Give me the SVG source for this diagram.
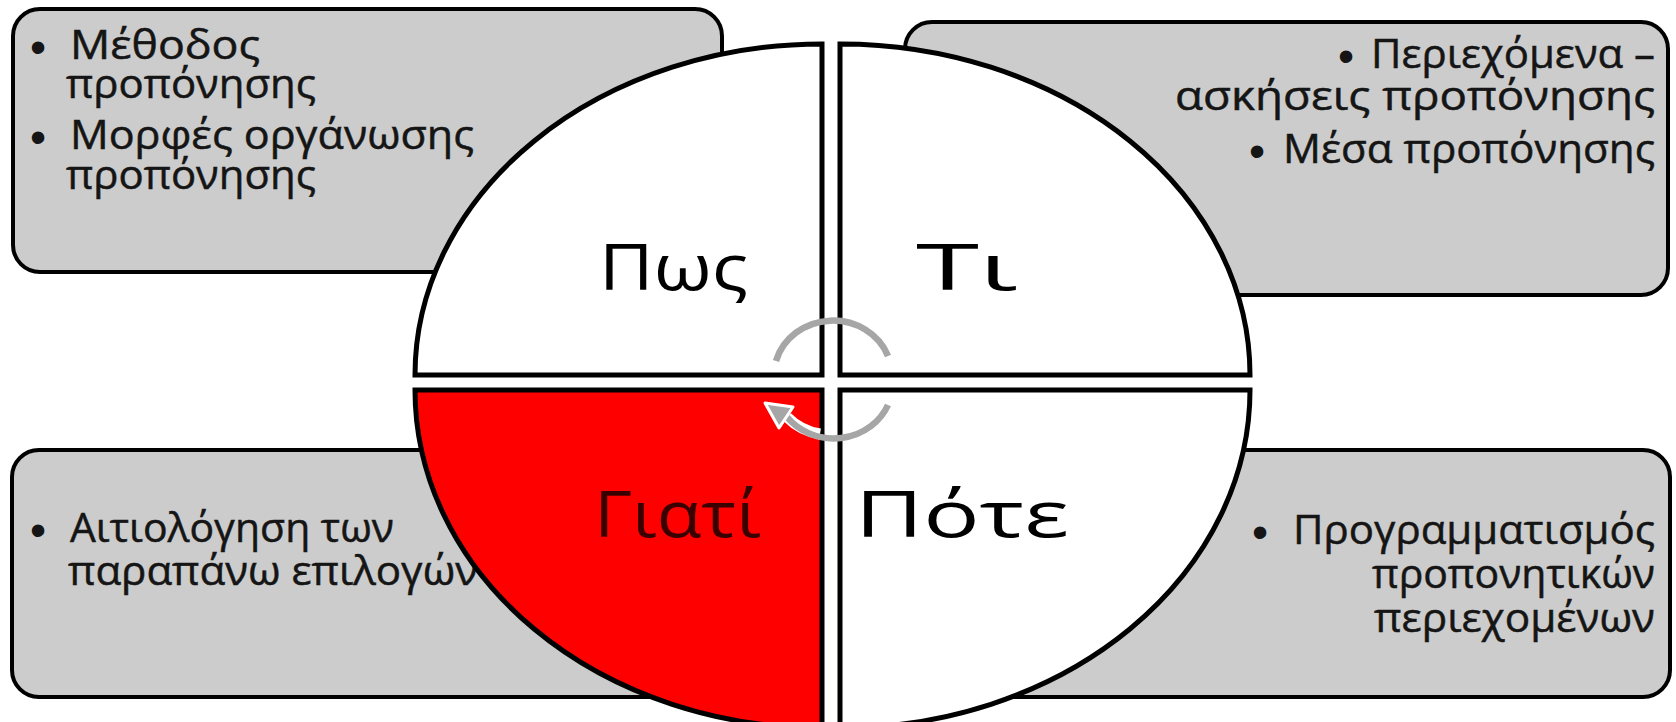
<svg xmlns="http://www.w3.org/2000/svg" width="1676" height="722" viewBox="0 0 1676 722">
<style>
.box{fill:#cccccc;stroke:#000;stroke-width:4}
.q{fill:#ffffff;stroke:#000;stroke-width:5;stroke-linejoin:miter}
.red{fill:#ff0000}
.t{font-family:"Open Sans","Noto Sans",sans-serif;font-size:40px;fill:#151515;stroke:#151515;stroke-width:0.5}
.b{font-family:"Liberation Sans",Arial,sans-serif;font-size:46px;fill:#151515}
.lab{font-family:"Open Sans","Noto Sans",sans-serif;font-size:64px;fill:#000}
.arc{fill:none;stroke:#a6a6a6;stroke-width:6.5}
</style>
<rect width="1676" height="722" fill="#ffffff"/>
<g id="box-how">
<rect class="box" x="13" y="9" width="709" height="263" rx="27"/>
<text class="b" x="30" y="63">•</text>
<text class="t" x="70" y="59" textLength="190" lengthAdjust="spacingAndGlyphs">Μέθοδος</text>
<text class="t" x="66" y="98" textLength="250" lengthAdjust="spacingAndGlyphs">προπόνησης</text>
<text class="b" x="30" y="153">•</text>
<text class="t" x="70" y="149" textLength="404" lengthAdjust="spacingAndGlyphs">Μορφές οργάνωσης</text>
<text class="t" x="66" y="189" textLength="250" lengthAdjust="spacingAndGlyphs">προπόνησης</text>
</g>
<g id="box-what">
<rect class="box" x="905" y="22" width="763" height="273" rx="27"/>
<text class="b" x="1338" y="72">•</text>
<text class="t" x="1655" y="68" text-anchor="end" textLength="284" lengthAdjust="spacingAndGlyphs">Περιεχόμενα –</text>
<text class="t" x="1655" y="110" text-anchor="end" textLength="480" lengthAdjust="spacingAndGlyphs">ασκήσεις προπόνησης</text>
<text class="b" x="1249" y="167">•</text>
<text class="t" x="1655" y="163" text-anchor="end" textLength="372" lengthAdjust="spacingAndGlyphs">Μέσα προπόνησης</text>
</g>
<g id="box-why">
<rect class="box" x="12" y="450" width="710" height="247" rx="27"/>
<text class="b" x="30" y="546">•</text>
<text class="t" x="70" y="542" textLength="324" lengthAdjust="spacingAndGlyphs">Αιτιολόγηση των</text>
<text class="t" x="68" y="585" textLength="410" lengthAdjust="spacingAndGlyphs">παραπάνω επιλογών</text>
</g>
<g id="box-when">
<rect class="box" x="905" y="450" width="765" height="247" rx="27"/>
<text class="b" x="1252" y="548">•</text>
<text class="t" x="1655" y="544" text-anchor="end" textLength="362" lengthAdjust="spacingAndGlyphs">Προγραμματισμός</text>
<text class="t" x="1655" y="588" text-anchor="end" textLength="283" lengthAdjust="spacingAndGlyphs">προπονητικών</text>
<text class="t" x="1655" y="632" text-anchor="end" textLength="281" lengthAdjust="spacingAndGlyphs">περιεχομένων</text>
</g>
<g id="q-how">
<path class="q" d="M 822 375 L 415 375 A 407 331 0 0 1 822 44 Z"/>
<text class="lab" x="599" y="290" textLength="149" lengthAdjust="spacingAndGlyphs">Πως</text>
</g>
<g id="q-what">
<path class="q" d="M 840 375 L 840 44 A 410 331 0 0 1 1250 375 Z"/>
<text class="lab" x="916" y="290" textLength="102" lengthAdjust="spacingAndGlyphs">Τι</text>
</g>
<g id="q-when">
<path class="q" d="M 840 390 L 1250 390 A 410 338 0 0 1 840 728 Z"/>
<text class="lab" x="855" y="537" textLength="214" lengthAdjust="spacingAndGlyphs">Πότε</text>
</g>
<g id="q-why">
<path class="q red" d="M 822 390 L 822 728 A 407 338 0 0 1 415 390 Z"/>
<text class="lab" x="594" y="537" textLength="167" lengthAdjust="spacingAndGlyphs" style="fill:#3a0000">Γιατί</text>
</g>
<g id="connectors">
<path class="arc" d="M 776 361 A 59 55 0 0 1 888 356"/>
<path d="M 820 434 A 59 55 0 0 1 787 417" fill="none" stroke="#ffffff" stroke-width="11"/>
<path class="arc" d="M 888 405 A 59 55 0 0 1 787 417"/>
<polygon points="765,403 793,407 779,428" fill="#a6a6a6" stroke="#ffffff" stroke-width="3" stroke-linejoin="round"/>
</g>
</svg>
